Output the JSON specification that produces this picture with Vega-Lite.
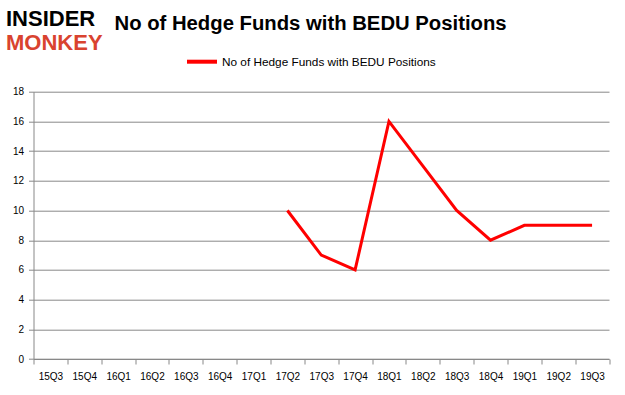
{
  "$schema": "https://vega.github.io/schema/vega-lite/v6.json",
  "width": 575.5,
  "height": 267.3,
  "autosize": "none",
  "padding": {"left": 33.5, "top": 91.7, "right": 16, "bottom": 36},
  "background": "white",
  "title": {
    "text": "No of Hedge Funds with BEDU Positions",
    "anchor": "start",
    "dx": 109,
    "dy": 31,
    "font": "Liberation Sans",
    "fontSize": 20.3,
    "fontWeight": "bold",
    "color": "#000000"
  },
  "data": {
    "values": [
      {"quarter": "15Q3", "funds": null, "series": "No of Hedge Funds with BEDU Positions"},
      {"quarter": "15Q4", "funds": null, "series": "No of Hedge Funds with BEDU Positions"},
      {"quarter": "16Q1", "funds": null, "series": "No of Hedge Funds with BEDU Positions"},
      {"quarter": "16Q2", "funds": null, "series": "No of Hedge Funds with BEDU Positions"},
      {"quarter": "16Q3", "funds": null, "series": "No of Hedge Funds with BEDU Positions"},
      {"quarter": "16Q4", "funds": null, "series": "No of Hedge Funds with BEDU Positions"},
      {"quarter": "17Q1", "funds": null, "series": "No of Hedge Funds with BEDU Positions"},
      {"quarter": "17Q2", "funds": 10, "series": "No of Hedge Funds with BEDU Positions"},
      {"quarter": "17Q3", "funds": 7, "series": "No of Hedge Funds with BEDU Positions"},
      {"quarter": "17Q4", "funds": 6, "series": "No of Hedge Funds with BEDU Positions"},
      {"quarter": "18Q1", "funds": 16, "series": "No of Hedge Funds with BEDU Positions"},
      {"quarter": "18Q2", "funds": 13, "series": "No of Hedge Funds with BEDU Positions"},
      {"quarter": "18Q3", "funds": 10, "series": "No of Hedge Funds with BEDU Positions"},
      {"quarter": "18Q4", "funds": 8, "series": "No of Hedge Funds with BEDU Positions"},
      {"quarter": "19Q1", "funds": 9, "series": "No of Hedge Funds with BEDU Positions"},
      {"quarter": "19Q2", "funds": 9, "series": "No of Hedge Funds with BEDU Positions"},
      {"quarter": "19Q3", "funds": 9, "series": "No of Hedge Funds with BEDU Positions"}
    ]
  },
  "mark": {"type": "line", "strokeWidth": 3},
  "encoding": {
    "x": {
      "field": "quarter",
      "type": "ordinal",
      "sort": null,
      "bandPosition": 0.5,
      "scale": {
        "type": "band",
        "domain": ["15Q3","15Q4","16Q1","16Q2","16Q3","16Q4","17Q1","17Q2","17Q3","17Q4","18Q1","18Q2","18Q3","18Q4","19Q1","19Q2","19Q3"],
        "paddingInner": 0,
        "paddingOuter": 0
      },
      "axis": {
        "tickBand": "extent",
        "labelAngle": 0,
        "labelFont": "Liberation Sans",
        "labelFontSize": 10,
        "labelColor": "#000000",
        "labelPadding": 7,
        "tickColor": "#888888",
        "tickSize": 5,
        "domainColor": "#888888",
        "grid": false,
        "title": "MONKEY",
        "titleColor": "#d9432f",
        "titleFont": "Liberation Sans",
        "titleFontSize": 22,
        "titleFontWeight": "bold",
        "titleAngle": 0,
        "titleAlign": "left",
        "titleBaseline": "alphabetic",
        "titleX": -28,
        "titleY": -310
      }
    },
    "y": {
      "field": "funds",
      "type": "quantitative",
      "scale": {"domain": [0, 18]},
      "axis": {
        "values": [0, 2, 4, 6, 8, 10, 12, 14, 16, 18],
        "labelFont": "Liberation Sans",
        "labelFontSize": 10,
        "labelColor": "#000000",
        "labelPadding": 5,
        "tickColor": "#888888",
        "tickSize": 5,
        "domainColor": "#888888",
        "gridColor": "#888888",
        "gridWidth": 1,
        "title": "INSIDER",
        "titleColor": "#000000",
        "titleFont": "Liberation Sans",
        "titleFontSize": 22,
        "titleFontWeight": "bold",
        "titleAngle": 0,
        "titleAlign": "left",
        "titleBaseline": "alphabetic",
        "titleX": -28,
        "titleY": -66
      }
    },
    "color": {
      "field": "series",
      "type": "nominal",
      "scale": {"range": ["#ff0000"]},
      "legend": {
        "orient": "none",
        "legendX": 151.5,
        "legendY": -47,
        "title": null,
        "symbolType": "stroke",
        "symbolSize": 900,
        "symbolStrokeWidth": 4,
        "labelFont": "Liberation Sans",
        "labelFontSize": 11.8,
        "labelColor": "#000000",
        "labelOffset": 3,
        "labelLimit": 400
      }
    }
  },
  "config": {
    "view": {"stroke": null}
  }
}
